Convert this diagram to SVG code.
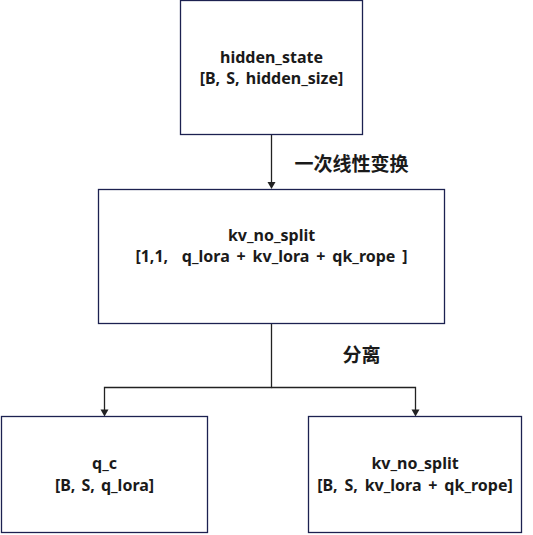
<svg xmlns="http://www.w3.org/2000/svg" width="533" height="535" viewBox="0 0 533 535">
<style>
.box{fill:#ffffff;stroke:#1c2150;stroke-width:1.3}
.t{font-family:"Noto Sans","Noto Sans CJK SC",sans-serif;font-weight:bold;font-size:16px;fill:#1a1a1a;text-anchor:middle;word-spacing:2px}
.w{word-spacing:2.7px}
.lbl{font-family:"Noto Sans CJK SC",sans-serif;font-weight:bold;font-size:19px;fill:#1a1a1a;text-anchor:middle}
.ln{fill:none;stroke:#222222;stroke-width:1.3}
</style>
<rect width="533" height="535" fill="#ffffff"/>
<g id="connectors">
<line class="ln" x1="271.5" y1="134.5" x2="271.5" y2="183"/>
<polygon points="267.5,182 275.5,182 271.5,189" fill="#222222"/>
<polyline class="ln" points="271.5,323.5 271.5,387.5 104.5,387.5 104.5,410"/>
<polyline class="ln" points="271.5,387.5 415.5,387.5 415.5,410"/>
<polygon points="100.5,409.5 108.5,409.5 104.5,416.5" fill="#222222"/>
<polygon points="411.5,409.5 419.5,409.5 415.5,416.5" fill="#222222"/>
<text class="lbl" x="351.5" y="171">一次线性变换</text>
<text class="lbl" x="361.5" y="362">分离</text>
</g>
<g id="hidden_state">
<rect class="box" x="180.5" y="0.5" width="182" height="134"/>
<text class="t" x="271.5" y="63">hidden_state</text>
<text class="t" x="271.5" y="84">[B, S, hidden_size]</text>
</g>
<g id="kv_no_split_top">
<rect class="box" x="98.5" y="189.5" width="346" height="134"/>
<text class="t" x="271.5" y="241" xml:space="preserve">kv_no_split</text>
<text class="t w" x="271.5" y="262" xml:space="preserve">[1,1,  q_lora + kv_lora + qk_rope ]</text>
</g>
<g id="q_c">
<rect class="box" x="1.5" y="416.5" width="206" height="116"/>
<text class="t" x="104.5" y="469">q_c</text>
<text class="t" x="104.5" y="491">[B, S, q_lora]</text>
</g>
<g id="kv_no_split_bottom">
<rect class="box" x="308.5" y="416.5" width="213" height="116"/>
<text class="t" x="415" y="469">kv_no_split</text>
<text class="t w" x="415" y="491">[B, S, kv_lora + qk_rope]</text>
</g>
</svg>
